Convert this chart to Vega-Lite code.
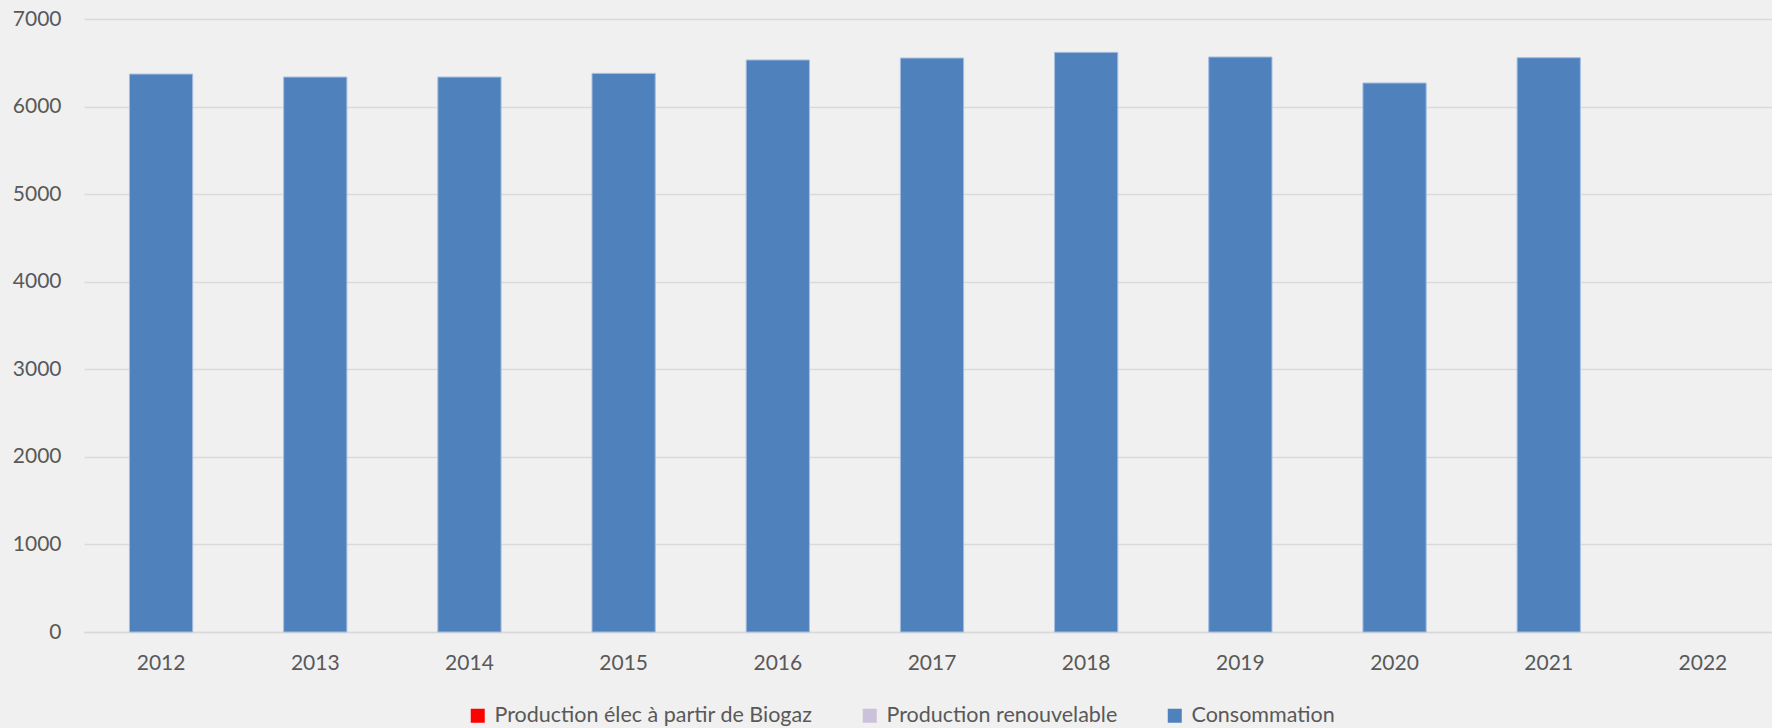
{
  "$schema": "https://vega.github.io/schema/vega-lite/v6.json",
  "autosize": {"type": "none"},
  "padding": {"left": 84, "top": 19, "right": 0, "bottom": 96},
  "width": 1696,
  "height": 613,
  "background": "#f0f0f0",
  "config": {
    "view": {"stroke": null},
    "font": "Lato",
    "axis": {"labelFont": "Lato", "labelColor": "#595959", "labelFontSize": 21},
    "legend": {"labelFont": "Lato", "labelColor": "#595959", "labelFontSize": 21.5}
  },
  "data": {
    "values": [
      {"annee": "2012", "serie": "Consommation", "valeur": 6371},
      {"annee": "2013", "serie": "Consommation", "valeur": 6337},
      {"annee": "2014", "serie": "Consommation", "valeur": 6337},
      {"annee": "2015", "serie": "Consommation", "valeur": 6379},
      {"annee": "2016", "serie": "Consommation", "valeur": 6532},
      {"annee": "2017", "serie": "Consommation", "valeur": 6554},
      {"annee": "2018", "serie": "Consommation", "valeur": 6619},
      {"annee": "2019", "serie": "Consommation", "valeur": 6566},
      {"annee": "2020", "serie": "Consommation", "valeur": 6269},
      {"annee": "2021", "serie": "Consommation", "valeur": 6558}
    ]
  },
  "mark": {"type": "bar", "stroke": "#a3bde0", "strokeWidth": 1},
  "encoding": {
    "x": {
      "field": "annee",
      "type": "nominal",
      "scale": {
        "domain": ["2012","2013","2014","2015","2016","2017","2018","2019","2020","2021","2022"],
        "paddingInner": 0.59,
        "paddingOuter": 0.295
      },
      "axis": {
        "title": null,
        "labelAngle": 0,
        "ticks": false,
        "domain": true,
        "domainColor": "#d9d9d9",
        "domainWidth": 1.5,
        "labelPadding": 20,
        "grid": false
      }
    },
    "y": {
      "field": "valeur",
      "type": "quantitative",
      "scale": {"domain": [0, 7000], "nice": false},
      "axis": {
        "title": null,
        "format": "d",
        "values": [0,1000,2000,3000,4000,5000,6000,7000],
        "ticks": false,
        "domain": false,
        "grid": true,
        "gridColor": "#d9d9d9",
        "gridWidth": 1.5,
        "labelPadding": 23
      }
    },
    "color": {
      "field": "serie",
      "type": "nominal",
      "scale": {
        "domain": ["Production élec à partir de Biogaz", "Production renouvelable", "Consommation"],
        "range": ["#ff0000", "#ccc1da", "#4f81bd"]
      },
      "legend": {
        "title": null,
        "orient": "none",
        "direction": "horizontal",
        "legendX": 383,
        "legendY": 686,
        "symbolType": "square",
        "symbolSize": 196,
        "symbolStrokeWidth": 0,
        "labelOffset": 6,
        "columnPadding": 46,
        "gridAlign": "none",
        "labelLimit": 500
      }
    }
  }
}
